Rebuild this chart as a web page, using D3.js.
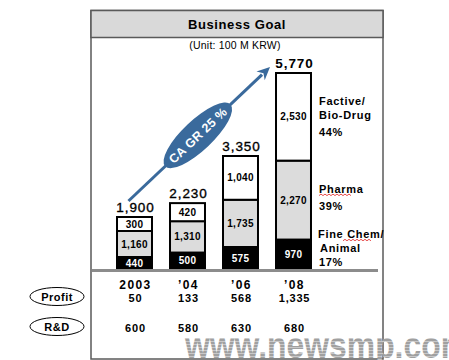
<!DOCTYPE html>
<html><head><meta charset="utf-8">
<script src="https://cdn.jsdelivr.net/npm/d3@7/dist/d3.min.js"></script>
<style>
html,body{margin:0;padding:0;background:#fff;}
svg{display:block;font-family:Arial,"Liberation Sans",sans-serif;}
</style></head>
<body><svg id="chart" width="449" height="360"></svg>
<script>
// ---- data ----
const years = ["2003", "\u201904", "\u201906", "\u201908"];
const fineChem = [440, 500, 575, 970];
const pharma = [1160, 1310, 1735, 2270];
const factive = [300, 420, 1040, 2530];
const totals = [1900, 2230, 3350, 5770];
const profit = [50, 133, 568, 1335];
const rnd = [600, 580, 630, 680];
const segShares = ["17%", "39%", "44%"];
const title = "Business Goal";
const unit = "(Unit: 100 M KRW)";
const cagr = "CA GR 25 %";

const svg = d3.select("#chart");
const fmt = d3.format(",");

// frame
svg.append("rect").attr("x", 91).attr("y", 10.5).attr("width", 292).attr("height", 348.5)
  .attr("fill", "#fff").attr("stroke", "#5a5a5a").attr("stroke-width", 1.5);
svg.append("rect").attr("x", 91).attr("y", 10.5).attr("width", 292).attr("height", 27)
  .attr("fill", "#d9d9d9").attr("stroke", "#5a5a5a").attr("stroke-width", 1.5);
svg.append("text").attr("x", 237).attr("y", 28.5).attr("text-anchor", "middle")
  .attr("font-size", 13).attr("font-weight", "bold").attr("letter-spacing", 0.6).text(title);
svg.append("text").attr("x", 235).attr("y", 49).attr("text-anchor", "middle")
  .attr("font-size", 10.5).attr("letter-spacing", 0.2).text(unit);

// scales (the source diagram is not drawn to a linear scale; piecewise-linear value scale)
const x = d3.scaleBand().domain(years).range([108, 320]).paddingInner(0.34).paddingOuter(0.17);
const y = d3.scaleLinear().domain([0, 440, 575, 1000, 1600, 1900, 3350, 5770])
  .range([269, 257, 247, 239, 231, 217, 156, 73]);

const stacks = years.map((yr, i) => {
  const vals = [fineChem[i], pharma[i], factive[i]];
  let c = 0;
  return vals.map((v, k) => { const s = {yr, k, v, y0: c, y1: c + v}; c += v; return s; });
});
const fills = ["#000", "#dcdcdc", "#fff"];
const textFill = ["#fff", "#000", "#000"];

const g = svg.append("g");
stacks.forEach(st => {
  st.forEach(s => {
    g.append("rect").attr("x", x(s.yr)).attr("width", x.bandwidth())
      .attr("y", y(s.y1)).attr("height", y(s.y0) - y(s.y1))
      .attr("fill", fills[s.k]).attr("stroke", "#000").attr("stroke-width", 2);
    g.append("text").attr("x", x(s.yr) + x.bandwidth() / 2)
      .attr("y", (y(s.y0) + y(s.y1)) / 2 + 3.6).attr("text-anchor", "middle")
      .attr("font-size", 10).attr("font-weight", "bold").attr("letter-spacing", 0.3)
      .attr("fill", textFill[s.k]).text(fmt(s.v));
  });
});
// totals
years.forEach((yr, i) => {
  svg.append("text").attr("x", x(yr) + x.bandwidth() / 2 + 1).attr("y", y(totals[i]) - 5)
    .attr("text-anchor", "middle").attr("font-size", 13.5)
    .attr("font-weight", i === 3 ? "bold" : "normal").attr("letter-spacing", 0.9)
    .attr("stroke", i === 3 ? "none" : "#000").attr("stroke-width", 0.35)
    .text(fmt(totals[i]));
});

// baseline
svg.append("line").attr("x1", 92).attr("x2", 378).attr("y1", 270.5).attr("y2", 270.5)
  .attr("stroke", "#8c8c8c").attr("stroke-width", 3);

// segment legend on right of last bar
const last = stacks[3];
const lx = x(years[3]) + x.bandwidth() + 8;
const legendLines = [
  [["Fine Chem/", -16.5, -1], ["Animal", -2, 1], [segShares[0], 12, 0]],
  [["Pharma", -7.5, 0], [segShares[1], 9.5, 0]],
  [["Factive/", -12, 0], ["Bio-Drug", 2, 0], [segShares[2], 19.5, 0]]
];
last.forEach((s, k) => {
  const mid = (y(s.y0) + y(s.y1)) / 2;
  legendLines[k].forEach(([t, dy, dx]) => {
    svg.append("text").attr("x", lx + dx).attr("y", mid + dy).attr("font-size", 11)
      .attr("font-weight", "bold").attr("letter-spacing", 0.7).text(t);
  });
});
// spell-check squiggles
function squiggle(x0, x1, yy) {
  let d = `M${x0},${yy}`;
  for (let xx = x0 + 2, up = true; xx <= x1; xx += 2, up = !up) d += `L${xx},${yy + (up ? -1.5 : 0)}`;
  svg.append("path").attr("d", d).attr("fill", "none").attr("stroke", "#e02020").attr("stroke-width", 0.8);
}
{
  const pm = (y(last[1].y0) + y(last[1].y1)) / 2;
  squiggle(lx, lx + 33, pm - 4.5);
  const fm = (y(last[0].y0) + y(last[0].y1)) / 2;
  squiggle(lx + 24, lx + 52, fm - 13.5);
}

// CAGR arrow
const sx = x(years[0]) + x.bandwidth() / 2 - 6, sy = y(totals[0]) - 16;
const tx = x(years[3]) - 6, ty = y(totals[3]) - 6;
const ang = Math.atan2(ty - sy, tx - sx);
const blue = "#3a6a9c";
const hl = 13, hw = 6;
const bx = tx - hl * Math.cos(ang), by = ty - hl * Math.sin(ang);
svg.append("line").attr("x1", sx).attr("y1", sy).attr("x2", bx + 2 * Math.cos(ang)).attr("y2", by + 2 * Math.sin(ang))
  .attr("stroke", blue).attr("stroke-width", 3);
svg.append("path").attr("d", `M${tx},${ty}L${bx - hw * Math.sin(ang)},${by + hw * Math.cos(ang)}L${bx + 4*Math.cos(ang)},${by + 4*Math.sin(ang)}L${bx + hw * Math.sin(ang)},${by - hw * Math.cos(ang)}Z`)
  .attr("fill", blue);
const ecx = sx + (tx - sx) * 0.49, ecy = sy + (ty - sy) * 0.49;
const deg = ang * 180 / Math.PI;
const eg = svg.append("g").attr("transform", `translate(${ecx},${ecy}) rotate(${deg})`);
eg.append("ellipse").attr("rx", 45).attr("ry", 15).attr("fill", blue);
eg.append("text").attr("y", 4.5).attr("text-anchor", "middle").attr("fill", "#fff")
  .attr("font-size", 12.5).attr("font-weight", "bold").attr("letter-spacing", 0.3).text(cagr);

// year labels and rows
years.forEach((yr, i) => {
  const cx = x(yr) + x.bandwidth() / 2 + 1;
  svg.append("text").attr("x", cx).attr("y", 288.5).attr("text-anchor", "middle")
    .attr("font-size", 12).attr("font-weight", "bold").attr("letter-spacing", 1.4).text(yr);
  svg.append("text").attr("x", cx).attr("y", 302).attr("text-anchor", "middle")
    .attr("font-size", 11).attr("font-weight", "bold").attr("letter-spacing", 0.8).text(fmt(profit[i]));
  svg.append("text").attr("x", cx).attr("y", 331.5).attr("text-anchor", "middle")
    .attr("font-size", 11).attr("font-weight", "bold").attr("letter-spacing", 0.8).text(fmt(rnd[i]));
});
[["Profit", 296.5], ["R&D", 326.5]].forEach(([t, cy]) => {
  svg.append("ellipse").attr("cx", 57).attr("cy", cy).attr("rx", 27).attr("ry", 9)
    .attr("fill", "#fff").attr("stroke", "#000").attr("stroke-width", 1);
  svg.append("text").attr("x", 57).attr("y", cy + 4).attr("text-anchor", "middle")
    .attr("font-size", 11).attr("font-weight", "bold").attr("letter-spacing", 0.5).text(t);
});

// watermark
const defs = svg.append("defs");
const pat = defs.append("pattern").attr("id", "scan").attr("patternUnits", "userSpaceOnUse")
  .attr("width", 4).attr("height", 3);
pat.append("rect").attr("width", 4).attr("height", 3).attr("fill", "#a0a0a0");
pat.append("rect").attr("y", 2).attr("width", 4).attr("height", 1).attr("fill", "#c8c8c8");
svg.append("text").attr("x", 185).attr("y", 358).attr("font-family", "Arial,'Liberation Sans',sans-serif")
  .attr("font-size", 37).attr("font-weight", "bold")
  .attr("textLength", 284).attr("lengthAdjust", "spacingAndGlyphs")
  .attr("fill", "url(#scan)").text("www.newsmp.com");
</script></body></html>
